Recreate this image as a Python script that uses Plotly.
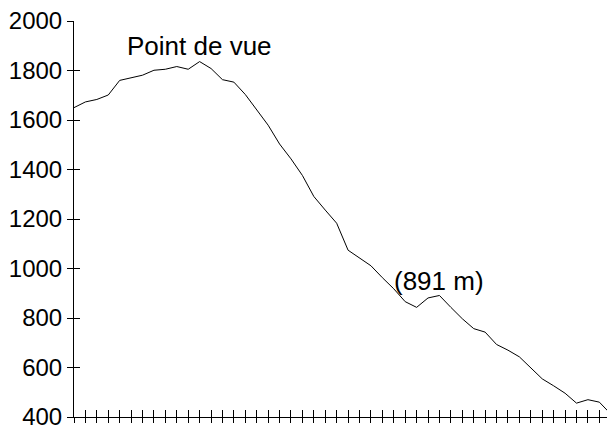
import plotly.graph_objects as go

# elevation profile, one point per tick (m)
altitude = [1650, 1673, 1683, 1701, 1760, 1771, 1781, 1801, 1805, 1816,
            1805, 1836, 1808, 1763, 1753, 1703, 1643, 1579, 1503, 1443,
            1376, 1291, 1236, 1183, 1074, 1043, 1011, 963, 918, 866,
            843, 881, 891, 843, 797, 757, 743, 693, 670, 643,
            597, 554, 526, 496, 456, 470, 460, 412]
distance = list(range(len(altitude)))

labels = [
    # (index, text y, text)
    (11, 1900, "Point de vue"),
    (32, 950, "(891 m)"),
]

X_RANGE = [0, 46.67]
Y_RANGE = [400, 2000]
FONT = "Liberation Sans, Arial, sans-serif"

fig = go.Figure()
fig.add_trace(go.Scatter(x=distance, y=altitude, mode="lines",
                         line=dict(color="black", width=1),
                         hoverinfo="skip", showlegend=False))
# dummy trace so the overlay axes (inner half of the crossing ticks) get drawn
fig.add_trace(go.Scatter(x=[None], y=[None], xaxis="x2", yaxis="y2",
                         showlegend=False, hoverinfo="skip"))

for idx, ty, txt in labels:
    fig.add_annotation(x=idx, y=ty, text=txt, showarrow=False,
                       xanchor="center", yanchor="middle",
                       font=dict(family=FONT, size=26, color="black"))

axis_common = dict(showgrid=False, zeroline=False, linecolor="black",
                   linewidth=1, tickcolor="black", tickwidth=1)

fig.update_layout(
    width=607, height=430,
    margin=dict(l=74, r=0, t=21, b=9),
    plot_bgcolor="white", paper_bgcolor="white",
    font=dict(family=FONT, size=24, color="black"),
    xaxis=dict(range=X_RANGE, tick0=0, dtick=1, ticks="outside", ticklen=5,
               showticklabels=False, showline=True, **axis_common),
    yaxis=dict(range=Y_RANGE, tick0=400, dtick=200, ticks="outside", ticklen=6,
               showline=True, ticklabeloverflow="allow", **axis_common),
    # overlay axes give the inner half of the crossing ticks
    xaxis2=dict(range=X_RANGE, tick0=0, dtick=1, ticks="inside", ticklen=7,
                showticklabels=False, showline=False,
                overlaying="x", side="bottom", anchor="y", **axis_common),
    yaxis2=dict(range=Y_RANGE, tick0=400, dtick=200, ticks="inside", ticklen=6,
                showticklabels=False, showline=False,
                overlaying="y", side="left", anchor="x", **axis_common),
)

# drop the default 8px body margin so the figure fills the window exactly
fig.write_html("out.html", config={"displayModeBar": False},
               post_script="document.body.style.margin='0';")
